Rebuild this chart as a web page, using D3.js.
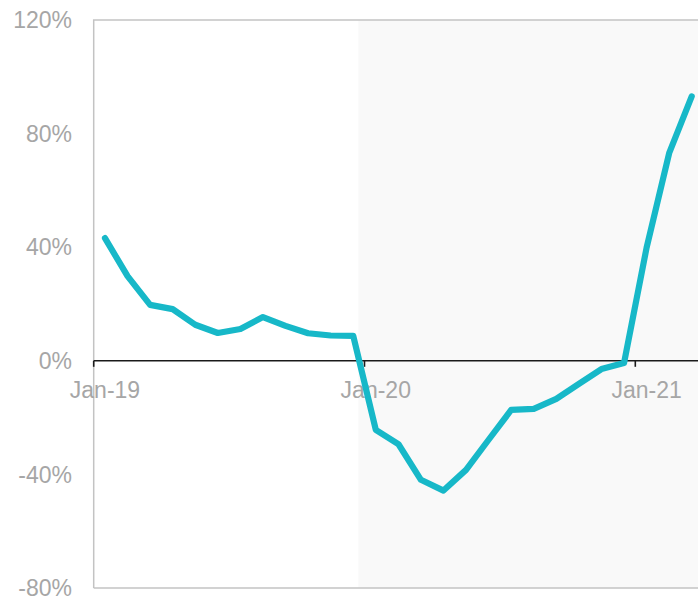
<!DOCTYPE html>
<html><head><meta charset="utf-8">
<script src="https://cdn.jsdelivr.net/npm/d3@7"></script>
<style>html,body{margin:0;padding:0;background:#fff;overflow:hidden}svg{display:block}</style>
</head><body>
<svg id="c" width="698" height="597"></svg>
<script>
const months = ["Jan-19","Feb-19","Mar-19","Apr-19","May-19","Jun-19","Jul-19","Aug-19","Sep-19","Oct-19","Nov-19","Dec-19",
"Jan-20","Feb-20","Mar-20","Apr-20","May-20","Jun-20","Jul-20","Aug-20","Sep-20","Oct-20","Nov-20","Dec-20",
"Jan-21","Feb-21","Mar-21"];
const values = [43.2,29.8,19.7,18.2,12.7,9.8,11.2,15.4,12.3,9.7,8.9,8.8,
-24.3,-29.3,-41.9,-45.7,-38.4,-27.8,-17.3,-16.9,-13.4,-8.1,-2.9,-0.8,
39.8,73.1,93.1];
const yTicks = [-80,-40,0,40,80,120];
const labelMonths = ["Jan-19","Jan-20","Jan-21"];
const shadeFrom = "Jan-20";

const svg = d3.select("#c");
const mLeft = 93.7, mRight = 703, mTop = 20, mBottom = 588;
const x = d3.scaleBand().domain(months).range([mLeft, mRight]).padding(0);
const y = d3.scaleLinear().domain([-80, 120]).range([mBottom, mTop]);
const bw = x.bandwidth();

// shaded region
const shadeX = x(shadeFrom) - bw * 0.27;
svg.append("rect")
  .attr("x", shadeX).attr("y", mTop)
  .attr("width", mRight - shadeX).attr("height", mBottom - mTop)
  .attr("fill", "#f9f9f9");

// frame
svg.append("path")
  .attr("d", `M${mLeft},${mBottom}V${mTop}H${mRight}`)
  .attr("fill", "none").attr("stroke", "#c3c3c3").attr("stroke-width", 1.5);
svg.append("line").attr("x1", mLeft).attr("x2", mRight).attr("y1", mBottom).attr("y2", mBottom)
  .attr("stroke", "#c3c3c3").attr("stroke-width", 1.5);

// y tick labels
svg.append("g").selectAll("text").data(yTicks).join("text")
  .attr("x", 72).attr("y", d => y(d)).attr("dy", "0.36em")
  .attr("text-anchor", "end")
  .attr("font-family", "Liberation Sans, Arial, sans-serif").attr("font-size", 23)
  .attr("fill", "#a6a6a6")
  .text(d => d + "%");

// zero axis
svg.append("line").attr("x1", mLeft).attr("x2", mRight).attr("y1", y(0)).attr("y2", y(0))
  .attr("stroke", "#1a1a1a").attr("stroke-width", 1.6);
svg.append("g").selectAll("line").data(labelMonths).join("line")
  .attr("x1", d => x(d)).attr("x2", d => x(d))
  .attr("y1", y(0)).attr("y2", y(0) + 6)
  .attr("stroke", "#1a1a1a").attr("stroke-width", 1.6);
svg.append("g").selectAll("text").data(labelMonths).join("text")
  .attr("x", d => x(d) + bw / 2).attr("y", y(0) + 37)
  .attr("text-anchor", "middle")
  .attr("font-family", "Liberation Sans, Arial, sans-serif").attr("font-size", 23)
  .attr("fill", "#a6a6a6")
  .text(d => d);

// line
const line = d3.line().x((d, i) => x(months[i]) + bw / 2).y(d => y(d));
svg.append("path").datum(values)
  .attr("d", line).attr("fill", "none")
  .attr("stroke", "#17b8c8").attr("stroke-width", 6.2)
  .attr("stroke-linejoin", "round").attr("stroke-linecap", "round");
</script>
</body></html>
